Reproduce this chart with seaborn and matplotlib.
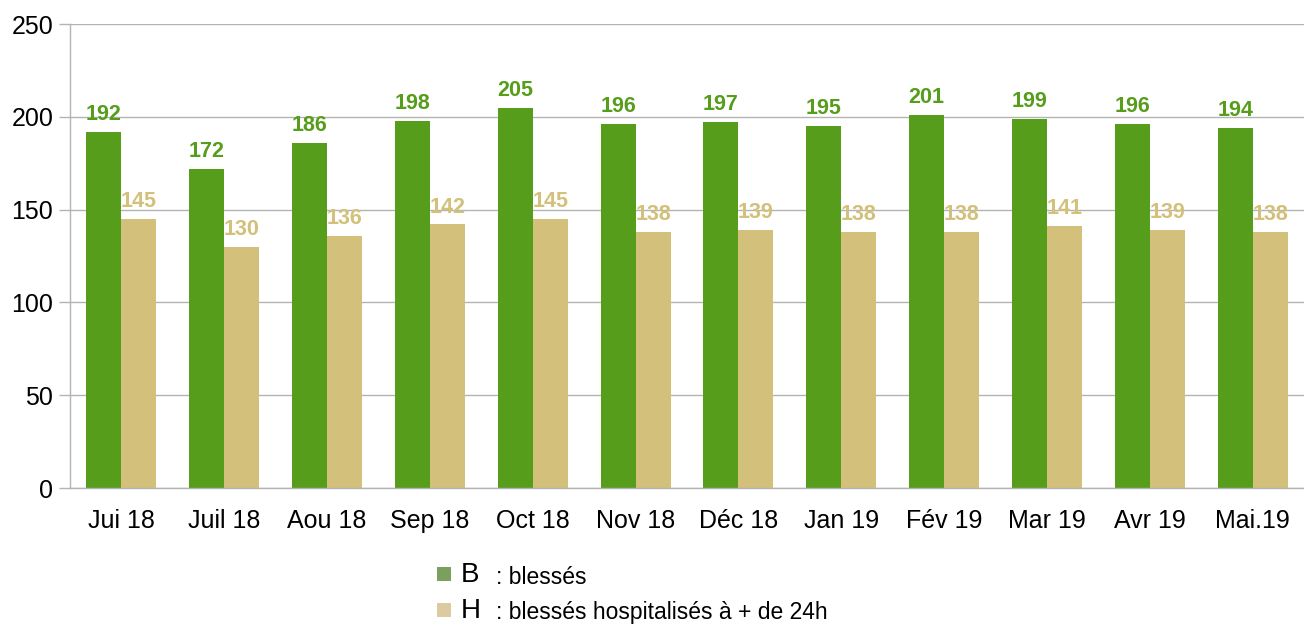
import numpy as np
import pandas as pd
import matplotlib
matplotlib.use("Agg")
import matplotlib.pyplot as plt
from matplotlib.patches import Rectangle
from matplotlib.ticker import FixedLocator
import seaborn as sns

# Data
months = ["Jui 18", "Juil 18", "Aou 18", "Sep 18", "Oct 18", "Nov 18",
          "Déc 18", "Jan 19", "Fév 19", "Mar 19", "Avr 19", "Mai.19"]
blesses = [192, 172, 186, 198, 205, 196, 197, 195, 201, 199, 196, 194]
hospitalises = [145, 130, 136, 142, 145, 138, 139, 138, 138, 141, 139, 138]
series = ["B", "H"]

GREEN = "#579d1c"
TAN = "#d2c07b"
GRID = "#b3b3b3"

df = pd.DataFrame({
    "mois": months * 2,
    "valeur": blesses + hospitalises,
    "serie": [series[0]] * len(months) + [series[1]] * len(months),
})

sns.set_theme(style="white")
plt.rcParams["font.family"] = ["Liberation Sans", "DejaVu Sans"]

fig = plt.figure(figsize=(13.04, 6.27), dpi=100)
ax = fig.add_axes([70 / 1304, (627 - 488) / 627, 1 - 70 / 1304, (488 - 24) / 627])

sns.barplot(data=df, x="mois", y="valeur", hue="serie", order=months,
            hue_order=series, palette=[GREEN, TAN], width=0.68,
            saturation=1, legend=False, linewidth=0, ax=ax)

# value labels above bars
for container, color in zip(ax.containers, [GREEN, TAN]):
    ax.bar_label(container, fmt="%d", color=color, fontsize=15.5,
                 fontweight="bold", padding=5)

ax.set_ylim(0, 250)
ax.set_xlim(-0.5, len(months) - 0.5)
ax.set_yticks([0, 50, 100, 150, 200, 250])
ax.yaxis.grid(True, color=GRID, linewidth=1)
ax.set_axisbelow(True)
ax.set_xlabel("")
ax.set_ylabel("")

for side in ["top", "right"]:
    ax.spines[side].set_visible(False)
for side in ["left", "bottom"]:
    ax.spines[side].set_color(GRID)
    ax.spines[side].set_linewidth(1)

ax.xaxis.set_minor_locator(FixedLocator(np.arange(-0.5, len(months), 1.0)))
ax.tick_params(axis="x", which="major", length=0, pad=15, labelsize=18,
               colors="black")
ax.tick_params(axis="x", which="minor", length=8, width=1, color=GRID,
               direction="out")
ax.tick_params(axis="y", which="major", length=8, width=1, color=GRID,
               pad=4, labelsize=18, labelcolor="black", left=True)

# legend built by hand (large series letter + smaller description)
legend_rows = [("B", ": blessés", "#7aa05c", 574),
               ("H", ": blessés hospitalisés à + de 24h", "#dccba0", 610)]
for letter, desc, color, yc in legend_rows:
    fig.patches.append(Rectangle((437 / 1304, 1 - (yc + 7) / 627), 14 / 1304,
                                 14 / 627, transform=fig.transFigure,
                                 facecolor=color, edgecolor="none"))
    fig.text(461 / 1304, 1 - (yc + 1) / 627, letter, fontsize=20,
             va="center", ha="left", color="black")
    fig.text(496 / 1304, 1 - (yc + 3) / 627, desc, fontsize=16.5,
             va="center", ha="left", color="black")

fig.savefig("out.png", dpi=100)
